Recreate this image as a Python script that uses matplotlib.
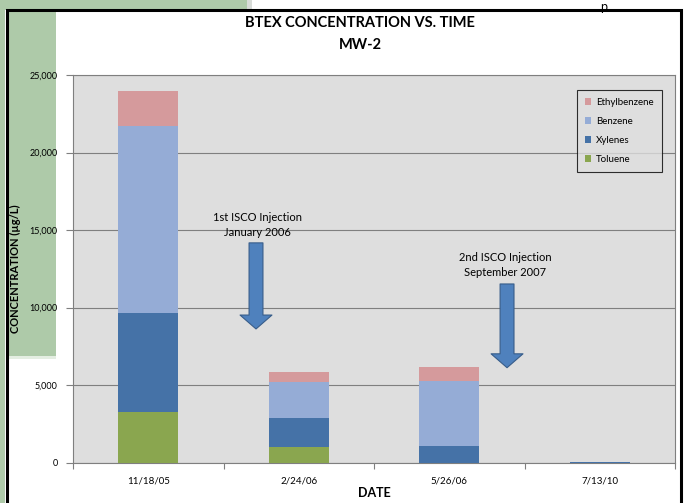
import matplotlib
matplotlib.use("Agg")
import matplotlib.pyplot as plt
import matplotlib.patches as mpatches
import numpy as np

# values (ug/L)
dates = ["11/18/05", "2/24/06", "5/26/06", "7/13/10"]
toluene = [3300, 1000, 0, 0]
xylenes = [6330, 1890, 1100, 20]
benzene = [12050, 2290, 4140, 40]
ethylbenzene = [2270, 650, 930, 0]

series_names = ["Toluene", "Xylenes", "Benzene", "Ethylbenzene"]
series_colors = ["#8aa64f", "#4572a7", "#95acd6", "#d59a9c"]

plt.rcParams["font.family"] = ["Lato", "DejaVu Sans"]

fig = plt.figure(figsize=(6.84, 5.03), dpi=100)
fig.patch.set_facecolor("white")

# slide background pieces around the chart frame
green = "#aecaa9"
bg = [
    mpatches.Rectangle((0, 0), 5 / 684, 1, fc=green, ec="none"),
    mpatches.Rectangle((0, 1 - 10 / 503), 247 / 684, 10 / 503, fc=green, ec="none"),
    mpatches.Rectangle((247 / 684, 1 - 10 / 503), 5 / 684, 10 / 503, fc="#d8dcd8", ec="none"),
    mpatches.Rectangle((8 / 684, 1 - 356 / 503), 48 / 684, 346 / 503, fc=green, ec="none"),
    mpatches.Rectangle((8 / 684, 1 - 359 / 503), 48 / 684, 3 / 503, fc="#e4eee2", ec="none"),
]
for p in bg:
    p.set_transform(fig.transFigure)
    p.set_zorder(-2)
    fig.patches.append(p)
fig.text(600 / 684, 0.999, "p", fontsize=9, ha="left", va="top",
         color="black", zorder=-1.5)
frame = mpatches.Rectangle((6.5 / 684, -0.02), 674 / 684, 1 - 10 / 503 + 0.02,
                           transform=fig.transFigure, fc="none", ec="black",
                           lw=2.2, zorder=-1)
fig.patches.append(frame)

ax = fig.add_axes([73 / 684, 1 - 462.7 / 503, 602 / 684, 387.7 / 503])
ax.set_facecolor("#dedede")

x = np.arange(len(dates))
values = [toluene, xylenes, benzene, ethylbenzene]
bottom = np.zeros(len(dates))
handles = []
for name, vals, col in zip(series_names, values, series_colors):
    b = ax.bar(x, vals, width=0.4, bottom=bottom, color=col, label=name, zorder=3)
    handles.append(b)
    bottom += np.array(vals)

ax.set_xlim(-0.5, len(dates) - 0.5)
ax.set_ylim(0, 25000)
ax.set_yticks(np.arange(0, 25001, 5000))
ax.set_yticklabels([f"{v:,}" for v in range(0, 25001, 5000)], fontsize=6.5)
ax.yaxis.grid(True, color="#7f7f7f", lw=0.8, zorder=1)

ax.set_xticks(np.arange(-0.5, len(dates), 1.0))
ax.set_xticklabels([])
ax.set_xticks(x, minor=True)
ax.set_xticklabels(dates, minor=True, fontsize=7)
ax.tick_params(axis="x", which="minor", length=0, pad=10)
ax.tick_params(axis="x", which="major", length=4, color="#7f7f7f")
ax.tick_params(axis="y", length=5, color="#7f7f7f", pad=6)

for side in ["top", "right", "left", "bottom"]:
    ax.spines[side].set_color("#7f7f7f")
    ax.spines[side].set_linewidth(0.8)

ax.set_xlabel("DATE", fontsize=9, fontweight="bold", labelpad=1)
ax.set_ylabel("CONCENTRATION (\u00b5g/L)", fontsize=8, fontweight="bold", labelpad=6)

fig.text(360 / 684, 1 - 23 / 503, "BTEX CONCENTRATION VS. TIME", ha="center", va="center",
         fontsize=10.5, fontweight="bold")
fig.text(360 / 684, 1 - 45 / 503, "MW-2", ha="center", va="center",
         fontsize=10.5, fontweight="bold")

leg = ax.legend(handles[::-1], series_names[::-1], loc="upper right",
                bbox_to_anchor=(0.978, 0.962), borderaxespad=0, fontsize=7,
                frameon=True, fancybox=False, handlelength=0.7, handleheight=0.7,
                handletextpad=0.5, labelspacing=1.05, borderpad=0.8)
leg.get_frame().set_edgecolor("black")
leg.get_frame().set_facecolor("#dedede")
leg.get_frame().set_linewidth(0.8)

# injection annotations
arrow_fc = "#4f81bd"
arrow_ec = "#385d8a"
style = "simple,tail_width=1.0,head_width=2.3,head_length=1.0"
ax.annotate("", xy=(0.304, 0.345), xytext=(0.304, 0.567), xycoords="axes fraction",
            arrowprops=dict(arrowstyle=style, fc=arrow_fc, ec=arrow_ec, lw=0.8,
                            mutation_scale=10, shrinkA=0, shrinkB=0), zorder=5)
ax.annotate("", xy=(0.721, 0.245), xytext=(0.721, 0.461), xycoords="axes fraction",
            arrowprops=dict(arrowstyle=style, fc=arrow_fc, ec=arrow_ec, lw=0.8,
                            mutation_scale=10, shrinkA=0, shrinkB=0), zorder=5)
ax.text(0.307, 0.614, "1st ISCO Injection\nJanuary 2006", transform=ax.transAxes,
        ha="center", va="center", fontsize=8, linespacing=1.45, zorder=5)
ax.text(0.718, 0.51, "2nd ISCO Injection\nSeptember 2007", transform=ax.transAxes,
        ha="center", va="center", fontsize=8, linespacing=1.45, zorder=5)

fig.savefig("out.png", dpi=100)
